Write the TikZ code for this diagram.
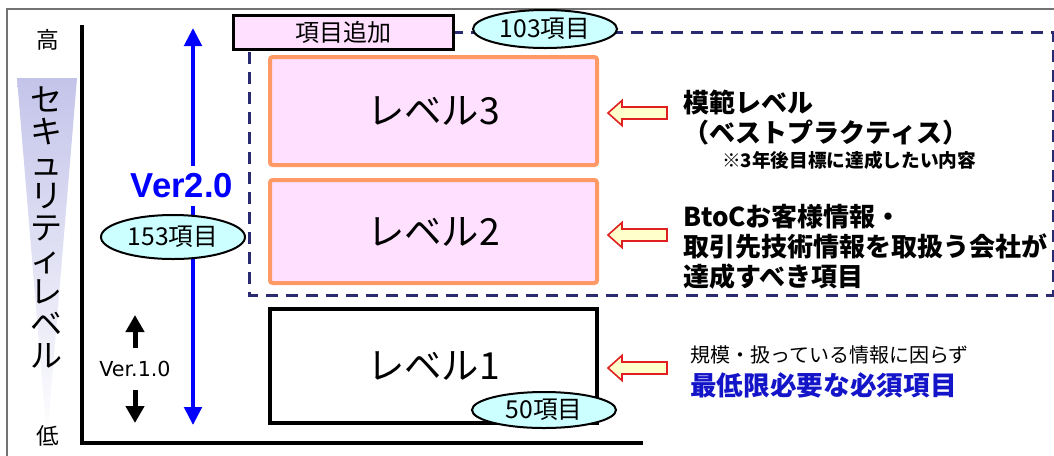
\documentclass[tikz,border=0pt]{standalone}
\usepackage{fontspec}
\setmainfont{Noto Sans CJK JP}
\newfontfamily\arialf{Liberation Sans}
\newfontfamily\tahomaf{DejaVu Sans}
\usetikzlibrary{arrows.meta,shapes.geometric}
\definecolor{pinkfill}{HTML}{FFE0FF}
\definecolor{orangeline}{HTML}{FF9966}
\definecolor{navyline}{HTML}{2A2A70}
\definecolor{cyanfill}{HTML}{CCFFFF}
\definecolor{yelfill}{HTML}{FFFFCC}
\definecolor{hollowred}{HTML}{E02020}
\definecolor{lav}{HTML}{C4C4EA}
\definecolor{deepblue}{HTML}{1414C8}
\definecolor{vblue}{HTML}{0000FF}
\tikzset{
  lvlbox/.style={draw=orangeline, line width=3pt, fill=pinkfill, rounded corners=2pt,
    minimum width=245.25pt, inner sep=0pt, font=\fontsize{28}{30}\selectfont},
  cnt/.style={ellipse, draw=black, line width=1.5pt, fill=cyanfill, inner sep=0pt,
    minimum width=108pt, font=\fontsize{18.5}{20}\selectfont},
  hollow/.pic={\draw[draw=hollowred, line width=1.2pt, fill=yelfill]
    (0,0) -- (14,-12.5) -- (14,-6) -- (59,-6) -- (59,6) -- (14,6) -- (14,12.5) -- cycle;},
  desc/.style={anchor=west, align=left, inner sep=0pt, font=\bfseries\fontsize{19.5}{22.5}\selectfont},
  bigtip/.style={-{Triangle[length=12.75pt,width=13.5pt]}},
}
\begin{document}
\begin{tikzpicture}[x=0.75pt,y=-0.75pt]
\useasboundingbox (0,0) rectangle (1054,455);
% frame
\draw[black!55, line width=1.5pt] (7,470) -- (7,9) -- (1070,9);
% gradient triangle
\shade[top color=lav, bottom color=white] (17,78) -- (77,78) -- (47,440) -- cycle;
\node[inner sep=0pt, font=\fontsize{17}{20}\selectfont] (hi) at (48,40) {高};
\node[inner sep=0pt, font=\fontsize{17}{20}\selectfont] (lo) at (48,436) {低};
\node[align=center, inner sep=0pt, font=\fontsize{24}{24}\selectfont] (sec) at (47,228)
  {セ\\キ\\ュ\\リ\\テ\\ィ\\レ\\ベ\\ル};
% axes
\draw[line width=3pt] (82,25) -- (82,443) -- (643,443);
% dashed region
\draw[navyline, line width=2.25pt, dash pattern=on 9pt off 6pt] (249,32) rectangle (1053,295);
% blue arrow
\coordinate (bt) at (193,28);
\coordinate (bb) at (193,425);
\draw[vblue, line width=3pt, {Triangle[length=13.5pt,width=13pt]}-{Triangle[length=13.5pt,width=13pt]}] (bt) -- (bb);
\node[fill=white, inner xsep=1pt, inner ysep=6pt, text=vblue, font=\arialf\bfseries\fontsize{26}{28}\selectfont] (v2) at (182,186) {Ver2.0};
\node[cnt, minimum height=33pt] (c153) at (173,237) {153項目};
% Ver 1.0
\node[inner sep=0pt, minimum height=31.5pt, font=\tahomaf\fontsize{15.5}{18}\selectfont] (v1) at (135,369) {Ver.1.0};
\coordinate (v1t) at (135,315);
\coordinate (v1b) at (135,423);
\draw[line width=3.75pt, bigtip] (v1.north) -- (v1t);
\draw[line width=3.75pt, bigtip] (v1.south) -- (v1b);
% top box and count
\node[draw=black, line width=2.25pt, fill=pinkfill, minimum width=165pt, minimum height=25.5pt, inner sep=0pt, font=\fontsize{18}{20}\selectfont] (add) at (343,32) {項目追加};
\node[cnt, minimum height=28.5pt] (c103) at (545,29) {103項目};
% levels
\node[lvlbox, minimum height=81pt] (l3) at (433.5,111) {レベル3};
\node[lvlbox, minimum height=77.25pt] (l2) at (433.5,231.5) {レベル2};
\node[draw=black, line width=3pt, fill=white, minimum width=245.25pt, minimum height=85.5pt, inner sep=0pt, font=\fontsize{28}{30}\selectfont] (l1) at (433.5,366) {レベル1};
\node[cnt, minimum height=27pt] (c50) at (544,410) {50項目};
% hollow arrows
\pic at (608,113) {hollow};
\pic at (608,235) {hollow};
\pic at (608,368) {hollow};
% descriptions
\node[desc] (t3) at (683,117.5) {模範レベル\\（ベストプラクティス）};
\node[anchor=west, inner sep=0pt, font=\bfseries\fontsize{14}{16}\selectfont] (t3n) at (722,160) {※3年後目標に達成したい内容};
\node[desc] (t2) at (683,247) {BtoCお客様情報・\\取引先技術情報を取扱う会社が\\達成すべき項目};
\node[anchor=west, inner sep=0pt, font=\fontsize{15}{18}\selectfont] (t1a) at (690,355) {規模・扱っている情報に因らず};
\node[anchor=west, inner sep=0pt, text=deepblue, font=\bfseries\fontsize{20}{24}\selectfont] (t1b) at (690,385) {最低限必要な必須項目};
\end{tikzpicture}
\end{document}
